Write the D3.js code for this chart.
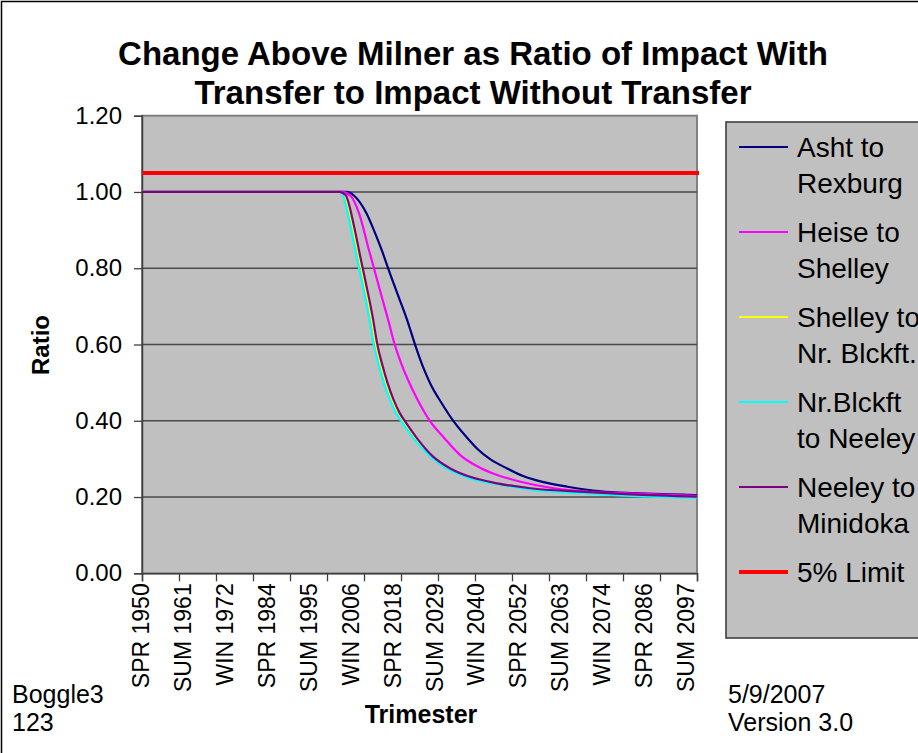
<!DOCTYPE html>
<html><head><meta charset="utf-8">
<script src="https://cdn.jsdelivr.net/npm/d3@7"></script>
<style>
html,body{margin:0;padding:0;background:#fff;}
svg{display:block;font-family:"Liberation Sans",Arial,sans-serif;}
</style></head>
<body>
<svg id="chart" width="918" height="753"></svg>
<script>
// ---------- DATA ----------
const seasons = ["SPR", "SUM", "WIN"];
const firstYear = 1950, lastYear = 2100;
// category list: SPR 1950 ... SPR 2100 (trimesters)
const categories = [];
for (let y = firstYear; y <= lastYear; y++) {
  for (const s of seasons) {
    categories.push(s + " " + y);
    if (y === lastYear) break;
  }
}
const yTicks = [0, 0.2, 0.4, 0.6, 0.8, 1.0, 1.2];
const limitValue = 1.05;

const seriesNames = ["Asht to Rexburg", "Heise to Shelley", "Shelley to Nr. Blckft.", "Nr.Blckft to Neeley", "Neeley to Minidoka"];
const legendLines = [["Asht to", "Rexburg"], ["Heise to", "Shelley"], ["Shelley to", "Nr. Blckft."], ["Nr.Blckft", "to Neeley"], ["Neeley to", "Minidoka"], ["5% Limit"]];
const seriesColors = ["#000080", "#FF00FF", "#FFFF00", "#00FFFF", "#800080"];

const ashtToRexburg = [
  ["SPR 1950", 1.000], ["SUM 2005", 1.000], ["SUM 2007", 0.990], ["WIN 2010", 0.944],
  ["WIN 2012", 0.900], ["SPR 2015", 0.842], ["SUM 2016", 0.805], ["SPR 2019", 0.734],
  ["WIN 2021", 0.664], ["SPR 2024", 0.594], ["SPR 2026", 0.540], ["SPR 2028", 0.496],
  ["SPR 2031", 0.446], ["SUM 2034", 0.397], ["SPR 2038", 0.354], ["WIN 2040", 0.326],
  ["SPR 2044", 0.300], ["WIN 2048", 0.275], ["SPR 2053", 0.255], ["WIN 2057", 0.241],
  ["SPR 2065", 0.227], ["SPR 2074", 0.215], ["SPR 2083", 0.210], ["SUM 2097", 0.206],
  ["SPR 2100", 0.205]
];
const heiseToShelley = [
  ["SPR 1950", 1.000], ["SPR 2004", 1.000], ["SUM 2006", 0.990], ["WIN 2008", 0.944],
  ["SUM 2011", 0.848], ["WIN 2012", 0.801], ["SPR 2015", 0.718], ["WIN 2016", 0.660],
  ["SPR 2018", 0.610], ["SPR 2020", 0.552], ["WIN 2021", 0.512], ["SUM 2024", 0.458],
  ["SPR 2028", 0.397], ["WIN 2031", 0.355], ["SPR 2036", 0.310], ["SUM 2041", 0.277],
  ["SPR 2046", 0.258], ["SUM 2052", 0.240], ["SUM 2061", 0.223], ["SUM 2070", 0.214],
  ["WIN 2086", 0.208], ["SPR 2100", 0.203]
];
const shelleyToNrBlckft = [
  ["SPR 1950", 1.000], ["SPR 2003", 1.000], ["WIN 2004", 0.992], ["SPR 2007", 0.909],
  ["WIN 2008", 0.830], ["SPR 2010", 0.769], ["SPR 2012", 0.673], ["SUM 2013", 0.597],
  ["WIN 2014", 0.545], ["SPR 2016", 0.500], ["WIN 2017", 0.455], ["SUM 2019", 0.420],
  ["SPR 2021", 0.395], ["SPR 2024", 0.354], ["SUM 2028", 0.306], ["SPR 2033", 0.275],
  ["SUM 2038", 0.252], ["WIN 2045", 0.235], ["WIN 2054", 0.222], ["SUM 2068", 0.212],
  ["SPR 2082", 0.205], ["SPR 2100", 0.200]
];
const nrBlckftToNeeley = [
  ["SPR 1950", 1.000], ["SPR 2003", 1.000], ["SPR 2004", 0.996], ["SUM 2006", 0.909],
  ["SPR 2008", 0.830], ["SUM 2009", 0.769], ["SUM 2011", 0.673], ["WIN 2012", 0.597],
  ["SPR 2014", 0.545], ["SUM 2015", 0.500], ["SPR 2017", 0.455], ["WIN 2018", 0.420],
  ["SUM 2020", 0.395], ["SUM 2023", 0.354], ["SPR 2028", 0.306], ["SUM 2032", 0.275],
  ["WIN 2038", 0.249], ["SPR 2047", 0.232], ["SPR 2056", 0.218], ["SUM 2068", 0.210],
  ["SPR 2082", 0.203], ["SPR 2100", 0.198]
];
const neeleyToMinidoka = [
  ["SPR 1950", 1.000], ["SUM 2003", 1.000], ["SPR 2005", 0.992], ["SUM 2007", 0.909],
  ["SPR 2009", 0.830], ["SUM 2010", 0.769], ["SUM 2012", 0.673], ["WIN 2013", 0.597],
  ["SPR 2015", 0.545], ["SUM 2016", 0.500], ["SPR 2018", 0.455], ["WIN 2019", 0.420],
  ["SUM 2021", 0.395], ["SUM 2024", 0.354], ["WIN 2028", 0.306], ["SUM 2033", 0.275],
  ["WIN 2038", 0.253], ["SPR 2046", 0.236], ["SPR 2055", 0.223], ["SUM 2068", 0.214],
  ["SPR 2082", 0.207], ["SPR 2100", 0.201]
];
const seriesData = [ashtToRexburg, heiseToShelley, shelleyToNrBlckft, nrBlckftToNeeley, neeleyToMinidoka];

const tickEvery = 30;   // tick marks every 30 trimesters
const labelEvery = 34;  // labels every 34 trimesters

// ---------- LAYOUT ----------
const plot = {left: 142, right: 697, top: 115.7, bottom: 573.3};
const svg = d3.select("#chart");
const FONT = '"Liberation Sans", Arial, sans-serif';

// outer chart border
svg.append("rect").attr("x", 1.5).attr("y", 1.5).attr("width", 1000).attr("height", 1000)
  .attr("fill", "#fff").attr("stroke", "#000").attr("stroke-width", 1.5);

const x = d3.scalePoint().domain(categories).range([plot.left, plot.right]);
const y = d3.scaleLinear().domain([0, 1.2]).range([plot.bottom, plot.top]);

// plot area
svg.append("rect").attr("x", plot.left).attr("y", plot.top)
  .attr("width", plot.right - plot.left).attr("height", plot.bottom - plot.top)
  .attr("fill", "#C0C0C0").attr("stroke", "#808080").attr("stroke-width", 2);

// gridlines
svg.append("g").selectAll("line").data(yTicks.filter(v => v > 0 && v < 1.2)).join("line")
  .attr("x1", plot.left).attr("x2", plot.right)
  .attr("y1", d => y(d)).attr("y2", d => y(d))
  .attr("stroke", "#4a4a4a").attr("stroke-width", 1.4);

// y axis
const yAxis = d3.axisLeft(y).tickValues(yTicks).tickFormat(d3.format(".2f")).tickSize(8).tickPadding(12);
const gy = svg.append("g").attr("transform", `translate(${plot.left},0)`).call(yAxis);
gy.select(".domain").attr("stroke", "#404040").attr("stroke-width", 1.5);
gy.selectAll(".tick line").attr("stroke", "#404040").attr("stroke-width", 1.3);
gy.selectAll(".tick text").attr("font-size", 24).attr("font-family", FONT).attr("fill", "#000");

// x axis ticks
const tickCats = categories.filter((d, i) => i % tickEvery === 0);
const labelCats = categories.filter((d, i) => i % labelEvery === 0);
const xAxis = d3.axisBottom(x).tickValues(tickCats).tickSize(8).tickFormat("");
const gx = svg.append("g").attr("transform", `translate(0,${plot.bottom})`).call(xAxis);
gx.select(".domain").attr("stroke", "#404040").attr("stroke-width", 1.5);
gx.selectAll(".tick line").attr("stroke", "#404040").attr("stroke-width", 1.3);

svg.append("g").selectAll("text").data(labelCats).join("text")
  .attr("transform", d => `translate(${x(d) - 1},${plot.bottom + 10}) rotate(-90)`)
  .attr("text-anchor", "end").attr("dominant-baseline", "central")
  .attr("font-size", 23).attr("font-family", FONT).text(d => d);

// series lines
const line = d3.line().x(d => x(d[0])).y(d => y(d[1])).curve(d3.curveMonotoneX);
svg.append("g").selectAll("path").data(seriesData).join("path")
  .attr("d", d => line(d)).attr("fill", "none")
  .attr("stroke", (d, i) => seriesColors[i]).attr("stroke-width", 2.2)
  .attr("stroke-linejoin", "round");

// 5% limit
svg.append("line").attr("x1", x(categories[0])).attr("x2", x(categories[categories.length - 1]) + 2)
  .attr("y1", y(limitValue)).attr("y2", y(limitValue))
  .attr("stroke", "#FF0000").attr("stroke-width", 4);

// title
const title = svg.append("text").attr("text-anchor", "middle").attr("font-family", FONT)
  .attr("font-weight", "bold").attr("font-size", 33);
title.append("tspan").attr("x", 473).attr("y", 65).text("Change Above Milner as Ratio of Impact With");
title.append("tspan").attr("x", 473).attr("y", 104).text("Transfer to Impact Without Transfer");

// axis titles
svg.append("text").attr("transform", "translate(49,345) rotate(-90)").attr("text-anchor", "middle")
  .attr("font-family", FONT).attr("font-weight", "bold").attr("font-size", 24).text("Ratio");
svg.append("text").attr("x", 421).attr("y", 723).attr("text-anchor", "middle")
  .attr("font-family", FONT).attr("font-weight", "bold").attr("font-size", 25).text("Trimester");

// legend
svg.append("rect").attr("x", 726).attr("y", 122).attr("width", 300).attr("height", 516)
  .attr("fill", "#C0C0C0").attr("stroke", "#333").attr("stroke-width", 1.5);
const legendColors = seriesColors.concat(["#FF0000"]);
const lg = svg.append("g").selectAll("g").data(legendLines).join("g")
  .attr("transform", (d, i) => `translate(0,${147 + i * 85})`);
lg.append("line").attr("x1", 739).attr("x2", 788).attr("y1", 0).attr("y2", 0)
  .attr("stroke", (d, i) => legendColors[i]).attr("stroke-width", (d, i) => i === 5 ? 4 : 2);
lg.each(function(d) {
  const t = d3.select(this).append("text").attr("font-family", FONT).attr("font-size", 28);
  d.forEach((s, j) => t.append("tspan").attr("x", 797).attr("y", 10 + j * 36).text(s));
});

// footer notes
const left = svg.append("text").attr("font-family", FONT).attr("font-size", 25);
left.append("tspan").attr("x", 12).attr("y", 703).text("Boggle3");
left.append("tspan").attr("x", 12).attr("y", 731).text("123");
const right = svg.append("text").attr("font-family", FONT).attr("font-size", 25);
right.append("tspan").attr("x", 728).attr("y", 703).text("5/9/2007");
right.append("tspan").attr("x", 728).attr("y", 731).text("Version 3.0");
</script>
</body></html>
